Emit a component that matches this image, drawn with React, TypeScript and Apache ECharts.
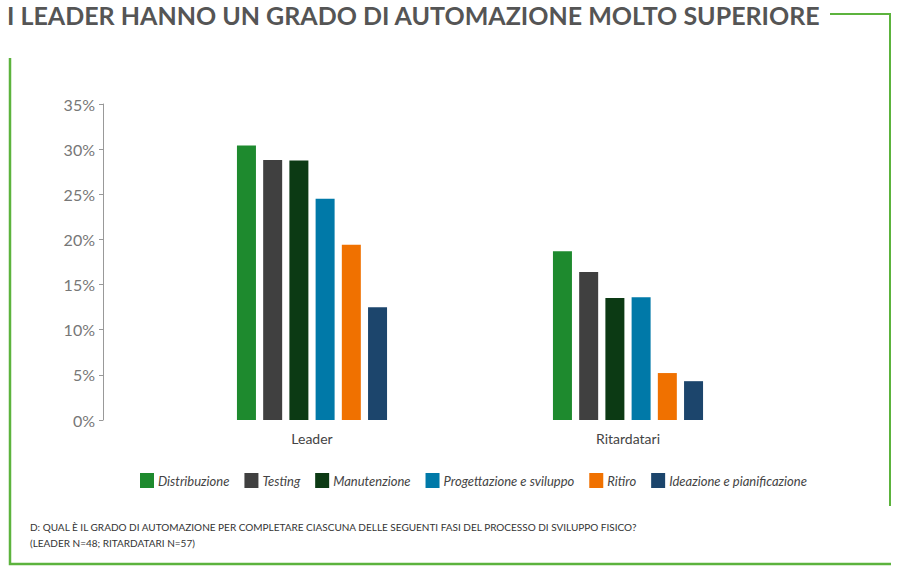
import React, { useEffect, useRef } from "react";
import * as echarts from "echarts";

const categories = ["Leader", "Ritardatari"];
const seriesNames = [
  "Distribuzione",
  "Testing",
  "Manutenzione",
  "Progettazione e sviluppo",
  "Ritiro",
  "Ideazione e pianificazione",
];
const distribuzione = [30.4, 18.7];
const testing = [28.8, 16.4];
const manutenzione = [28.75, 13.5];
const progettazione = [24.5, 13.6];
const ritiro = [19.4, 5.2];
const ideazione = [12.5, 4.3];
const colors = ["#1e8a2e", "#404040", "#0c3a14", "#0079a8", "#f07100", "#1c456c"];
const yTicks = [0, 5, 10, 15, 20, 25, 30, 35];

const titleText = "I LEADER HANNO UN GRADO DI AUTOMAZIONE MOLTO SUPERIORE";
const note1 = "D: QUAL È IL GRADO DI AUTOMAZIONE PER COMPLETARE CIASCUNA DELLE SEGUENTI FASI DEL PROCESSO DI SVILUPPO FISICO?";
const note2 = "(LEADER N=48; RITARDATARI N=57)";

const FONT = "Lato, 'Open Sans', sans-serif";
const GREEN = "#5cb33d";

export default function App() {
  const ref = useRef<HTMLDivElement>(null);
  useEffect(() => {
    document.body.style.margin = "0";
    const chart = echarts.init(ref.current!, null, { renderer: "svg" });
    const values = [distribuzione, testing, manutenzione, progettazione, ritiro, ideazione];
    chart.setOption({
      animation: false,
      textStyle: { fontFamily: FONT },
      grid: { left: 154, right: 114, top: 104, bottom: 149, containLabel: false },
      legend: {
        left: 135,
        top: 468,
        itemWidth: 14,
        itemHeight: 15,
        itemGap: 15,
        icon: "rect",
        textStyle: { fontFamily: FONT, fontStyle: "italic", fontSize: 13, color: "#444", padding: [0, 0, 0, -1] },
        data: seriesNames,
      },
      xAxis: {
        type: "category",
        data: categories,
        axisLine: { show: false },
        axisTick: { show: false },
        axisLabel: { fontFamily: FONT, fontSize: 14, color: "#444", margin: 11 },
      },
      yAxis: {
        type: "value",
        min: 0,
        max: 35,
        interval: 5,
        offset: 51,
        axisLine: { show: true, lineStyle: { color: "#999", width: 1 } },
        axisTick: { show: true, length: 4, lineStyle: { color: "#999" } },
        splitLine: { show: false },
        axisLabel: {
          fontFamily: FONT,
          fontSize: 16,
          color: "#777",
          margin: 8,
          formatter: (v: number) => (yTicks.includes(v) ? v + "%" : ""),
        },
      },
      series: seriesNames.map((name, i) => ({
        name,
        type: "bar",
        data: values[i],
        barWidth: 19,
        barGap: "38%",
        itemStyle: { color: colors[i] },
      })),
      graphic: [
        {
          type: "text",
          left: 7,
          top: 2,
          style: { text: titleText, fontFamily: FONT, fontWeight: "bold", fontSize: 25, fill: "#555" },
        },
        {
          type: "polyline",
          shape: { points: [[830, 14], [890, 14], [890, 506]] },
          style: { stroke: GREEN, lineWidth: 2, fill: "none" },
        },
        {
          type: "polyline",
          shape: { points: [[10, 58], [10, 564], [891, 564]] },
          style: { stroke: GREEN, lineWidth: 2.5, fill: "none" },
        },
        {
          type: "text",
          left: 30,
          top: 522,
          style: { text: note1, fontFamily: FONT, fontSize: 10, fill: "#333" },
        },
        {
          type: "text",
          left: 30,
          top: 538,
          style: { text: note2, fontFamily: FONT, fontSize: 10, fill: "#333" },
        },
      ],
    });
    return () => chart.dispose();
  }, []);
  return <div ref={ref} style={{ width: 900, height: 569 }} />;
}
